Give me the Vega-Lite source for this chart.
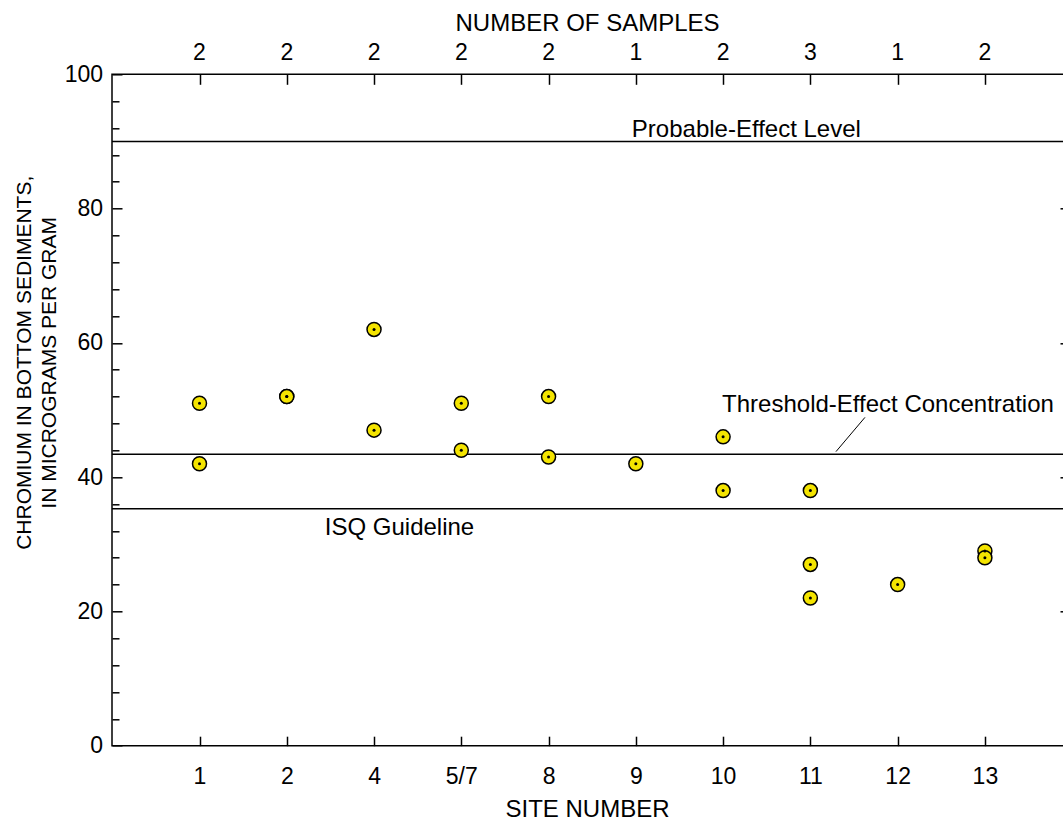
{
  "$schema": "https://vega.github.io/schema/vega-lite/v6.json",
  "width": 953,
  "height": 671.4,
  "autosize": {"type": "none"},
  "padding": {"left": 112, "top": 74.3, "right": 0, "bottom": 79.3},
  "background": "white",
  "config": {
    "view": {"stroke": "black", "strokeWidth": 1.5},
    "font": "Liberation Sans",
    "axis": {
      "domain": false, "tickColor": "black", "tickWidth": 1.5,
      "labelColor": "black", "titleColor": "black", "labelFont": "Liberation Sans", "titleFont": "Liberation Sans",
      "labelFontSize": 23, "titleFontSize": 24, "titleFontWeight": "normal", "grid": false,
      "labelOverlap": false, "labelFlush": false
    }
  },
  "datasets": {
    "obs": [
      {"site": "1", "chromium": 51}, {"site": "1", "chromium": 42},
      {"site": "2", "chromium": 52}, {"site": "2", "chromium": 52},
      {"site": "4", "chromium": 62}, {"site": "4", "chromium": 47},
      {"site": "5/7", "chromium": 51}, {"site": "5/7", "chromium": 44},
      {"site": "8", "chromium": 52}, {"site": "8", "chromium": 43},
      {"site": "9", "chromium": 42},
      {"site": "10", "chromium": 46}, {"site": "10", "chromium": 38},
      {"site": "11", "chromium": 38}, {"site": "11", "chromium": 27}, {"site": "11", "chromium": 22},
      {"site": "12", "chromium": 24},
      {"site": "13", "chromium": 29}, {"site": "13", "chromium": 28}
    ],
    "refs": [
      {"guideline": "Probable-Effect Level", "chromium": 90},
      {"guideline": "Threshold-Effect Concentration", "chromium": 43.4},
      {"guideline": "ISQ Guideline", "chromium": 35.3}
    ]
  },
  "resolve": {"axis": {"x": "independent", "y": "independent"}},
  "layer": [
    {
      "data": {"name": "refs"},
      "mark": {"type": "rule", "color": "black", "strokeWidth": 1.5},
      "encoding": {
        "y": {"field": "chromium", "type": "quantitative", "scale": {"domain": [0, 100], "nice": false},
          "axis": {"orient": "right", "values": [20, 40, 60, 80], "tickSize": -5, "labels": false, "title": null}}
      }
    },
    {
      "data": {"name": "obs"},
      "mark": {"type": "circle", "fill": "#f4e400", "stroke": "black", "strokeWidth": 1.5, "size": 196, "opacity": 1},
      "encoding": {
        "x": {"field": "site", "type": "ordinal", "scale": {"type": "point", "domain": ["1","2","4","5/7","8","9","10","11","12","13"], "range": [87.5, 872.9], "padding": 0},
          "axis": {"orient": "bottom", "tickSize": -9.5, "labelPadding": 29, "labelAngle": 0, "title": "SITE NUMBER", "titleBaseline": "alphabetic", "titleAlign": "center", "titleX": 475, "titleY": 71}},
        "y": {"field": "chromium", "type": "quantitative", "scale": {"domain": [0, 100], "nice": false},
          "axis": {"orient": "left",
            "values": [0,4,8,12,16,20,24,28,32,36,40,44,48,52,56,60,64,68,72,76,80,84,88,92,96,100],
            "tickSize": {"condition": {"test": "datum.value % 20 === 0", "value": -10}, "value": -7},
            "labelExpr": "datum.value % 20 === 0 ? datum.label : ''",
            "labelPadding": 19.5,
            "title": ["CHROMIUM IN BOTTOM SEDIMENTS,", "IN MICROGRAMS PER GRAM"],
            "titleFontSize": 21,
            "titleAngle": -90, "titleAlign": "center", "titleBaseline": "alphabetic",
            "titleX": -82, "titleY": 288, "titleLineHeight": 25}}
      }
    },
    {
      "data": {"name": "obs"},
      "mark": {"type": "circle", "fill": "black", "size": 9, "opacity": 1},
      "encoding": {
        "x": {"field": "site", "type": "ordinal", "scale": {"type": "point", "domain": ["1","2","4","5/7","8","9","10","11","12","13"], "range": [87.5, 872.9], "padding": 0}, "axis": null},
        "y": {"field": "chromium", "type": "quantitative", "scale": {"domain": [0, 100], "nice": false}, "axis": null}
      }
    },
    {
      "data": {"name": "obs"},
      "mark": {"type": "text", "fontSize": 23, "baseline": "alphabetic", "align": "center", "dy": -14.3, "color": "black"},
      "encoding": {
        "x": {"field": "site", "type": "ordinal", "scale": {"type": "point", "domain": ["1","2","4","5/7","8","9","10","11","12","13"], "range": [87.5, 872.9], "padding": 0},
          "axis": {"orient": "top", "tickSize": -10, "labels": false, "title": "NUMBER OF SAMPLES", "titleBaseline": "alphabetic", "titleAlign": "center", "titleX": 475, "titleY": -44.3}},
        "y": {"datum": 100, "type": "quantitative", "scale": {"domain": [0, 100], "nice": false}, "axis": null},
        "text": {"aggregate": "count", "type": "quantitative"}
      }
    },
    {
      "data": {"values": [{"site": "9", "chromium": 90.7, "label": "Probable-Effect Level"}]},
      "mark": {"type": "text", "fontSize": 24, "baseline": "alphabetic", "align": "left", "dx": -4, "color": "black"},
      "encoding": {
        "x": {"field": "site", "type": "ordinal", "scale": {"type": "point", "domain": ["1","2","4","5/7","8","9","10","11","12","13"], "range": [87.5, 872.9], "padding": 0}, "axis": null},
        "y": {"field": "chromium", "type": "quantitative", "scale": {"domain": [0, 100], "nice": false}, "axis": null},
        "text": {"field": "label"}
      }
    },
    {
      "data": {"values": [{"site": "10", "chromium": 49.75, "label": "Threshold-Effect Concentration"}]},
      "mark": {"type": "text", "fontSize": 24, "baseline": "alphabetic", "align": "left", "dx": -1, "color": "black"},
      "encoding": {
        "x": {"field": "site", "type": "ordinal", "scale": {"type": "point", "domain": ["1","2","4","5/7","8","9","10","11","12","13"], "range": [87.5, 872.9], "padding": 0}, "axis": null},
        "y": {"field": "chromium", "type": "quantitative", "scale": {"domain": [0, 100], "nice": false}, "axis": null},
        "text": {"field": "label"}
      }
    },
    {
      "data": {"values": [{"site": "2", "chromium": 31.35, "label": "ISQ Guideline"}]},
      "mark": {"type": "text", "fontSize": 24, "baseline": "alphabetic", "align": "left", "dx": 38, "color": "black"},
      "encoding": {
        "x": {"field": "site", "type": "ordinal", "scale": {"type": "point", "domain": ["1","2","4","5/7","8","9","10","11","12","13"], "range": [87.5, 872.9], "padding": 0}, "axis": null},
        "y": {"field": "chromium", "type": "quantitative", "scale": {"domain": [0, 100], "nice": false}, "axis": null},
        "text": {"field": "label"}
      }
    },
    {
      "data": {"values": [{"site": "11", "chromium": 43.8, "chromium_end": 48.9}]},
      "mark": {"type": "rule", "color": "black", "strokeWidth": 1, "xOffset": 25.6, "x2Offset": 54.6},
      "encoding": {
        "x": {"field": "site", "type": "ordinal", "scale": {"type": "point", "domain": ["1","2","4","5/7","8","9","10","11","12","13"], "range": [87.5, 872.9], "padding": 0}, "axis": null},
        "x2": {"field": "site"},
        "y": {"field": "chromium", "type": "quantitative", "scale": {"domain": [0, 100], "nice": false}, "axis": null},
        "y2": {"field": "chromium_end"}
      }
    }
  ]
}
